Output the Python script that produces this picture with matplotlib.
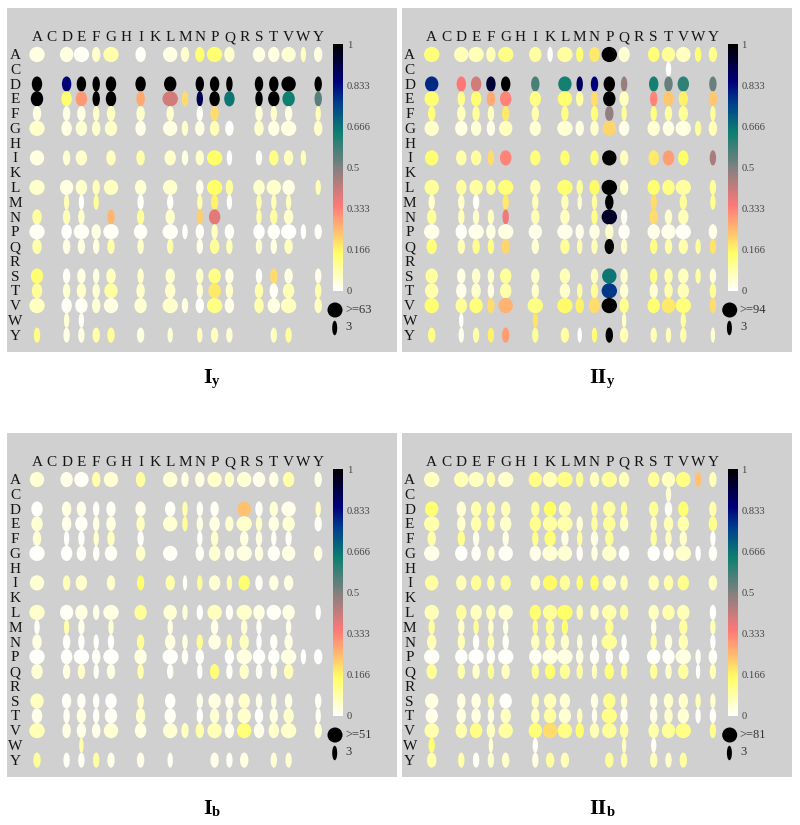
import matplotlib
matplotlib.use("Agg")
import matplotlib.pyplot as plt
from matplotlib.colors import LinearSegmentedColormap, Normalize
from matplotlib.cm import ScalarMappable
from matplotlib.patches import Ellipse

plt.rcParams['font.family'] = ['Liberation Serif']

residues = list("ACDEFGHIKLMNPQRSTVWY")
cbar_ticks = [0, 0.166, 0.333, 0.5, 0.666, 0.833, 1]
cbar_labels = ["0", "0.166", "0.333", "0.5", "0.666", "0.833", "1"]
legend_caps = [">=63", ">=94", ">=51", ">=81"]
title_main = ["I", "II", "I", "II"]
title_sub = ["y", "y", "b", "b"]
E = [0] * 20

# columns: A C D E F G H I K L M N P Q R S T V W Y
Iy_size = [
 [15,0,13,15,8,15,0,10,0,14,8,9,15,10,0,12,11,14,5,8], E,
 [10,0,9,9,7,10,0,10,0,12,0,8,9,6,0,8,9,14,0,7],
 [12,0,10,11,7,10,0,8,0,15,6,6,10,10,0,7,11,12,0,7],
 [8,0,7,8,6,8,0,8,0,7,0,6,8,0,0,7,6,7,0,5],
 [15,0,10,11,8,12,0,10,0,14,6,9,9,8,0,9,11,15,0,8], E,
 [14,0,7,11,0,9,0,8,0,11,6,8,15,5,0,6,9,9,5,0], E,
 [15,0,13,11,7,14,0,11,0,14,0,7,15,7,0,11,14,12,0,5],
 [0,0,5,5,5,0,0,6,0,6,0,5,7,5,0,5,5,5,0,0],
 [9,0,7,6,0,7,0,7,0,9,0,6,11,0,0,5,7,9,0,0],
 [15,0,10,15,9,15,0,13,0,15,5,8,6,9,0,11,12,15,5,7],
 [9,0,7,7,6,7,0,6,0,6,0,6,9,6,0,6,6,8,0,0], E,
 [12,0,7,8,6,9,0,6,0,9,0,7,12,8,0,6,7,8,0,6],
 [10,0,7,9,7,13,0,8,0,10,0,6,12,7,0,8,8,11,0,6],
 [15,0,10,12,8,14,0,12,0,15,6,8,15,9,0,9,12,15,0,7],
 [0,0,5,5,0,0,0,0,0,0,0,0,0,0,0,0,0,0,0,0],
 [6,0,6,6,7,7,0,7,0,5,0,5,7,6,0,0,6,6,0,0],
]
Iy_value = [
 [.03,0,.03,.01,.05,.08,0,.01,0,.03,.05,.14,.14,.05,0,.03,.03,.04,.06,.03], E,
 [1,0,.85,1,1,1,0,1,0,1,0,1,1,1,0,1,1,1,0,1],
 [1,0,.14,.3,1,1,0,.27,0,.4,.2,.9,1,.66,0,1,1,.64,0,.55],
 [.03,0,.03,.03,.05,.06,0,.05,0,.05,0,.01,.2,0,0,.04,.05,.03,0,.07],
 [.05,0,.03,.04,.05,.05,0,.02,0,.03,.05,.03,.07,.005,0,.05,.03,.03,0,.05], E,
 [.03,0,.04,.05,0,.06,0,.08,0,.05,.03,.05,.15,.005,0,.01,.12,.06,.07,0], E,
 [.05,0,.03,.05,.07,.06,0,.04,0,.05,0,.02,.15,.09,0,.05,.05,.03,0,.07],
 [0,0,.07,.005,.1,0,0,.005,0,.005,0,.08,.17,.01,0,.08,.07,.06,0,0],
 [.09,0,.07,.05,0,.25,0,.1,0,.05,0,.22,.38,0,0,.08,.09,.05,0,0],
 [.01,0,.005,.01,.03,.01,0,.01,0,.01,.005,.01,.06,.01,0,.005,.01,.005,.005,.01],
 [.08,0,.03,.03,.03,.08,0,.05,0,.08,0,.02,.1,.07,0,.04,.03,.06,0,0], E,
 [.14,0,.01,.03,.03,.06,0,.05,0,.05,0,.05,.12,.03,0,.01,.2,.03,0,.02],
 [.1,0,.04,.05,.04,.09,0,.05,0,.05,0,.04,.18,.05,0,.08,.01,.07,0,.08],
 [.06,0,.01,.01,.04,.03,0,.04,0,.05,.03,.005,.12,.02,0,.08,.03,.06,0,.06],
 [0,0,.04,.01,0,0,0,0,0,0,0,0,0,0,0,0,0,0,0,0],
 [.12,0,.03,.03,.08,.1,0,.03,0,.04,0,.06,.06,.04,0,0,.06,.09,0,0],
]

IIy_size = [
 [15,0,14,15,9,15,0,12,5,15,7,10,15,11,0,11,13,14,6,8],
 [0,0,0,0,0,0,0,0,0,0,0,0,0,0,0,0,5,0,0,0],
 [13,0,9,10,9,9,0,8,0,13,6,7,11,6,0,9,8,11,0,7],
 [14,0,7,10,8,11,0,11,0,14,7,7,12,9,0,7,10,9,0,8],
 [7,0,8,7,6,7,0,7,0,7,0,7,8,5,0,6,7,9,0,5],
 [14,0,12,10,8,13,0,11,0,15,8,8,13,10,0,12,11,15,6,8], E,
 [13,0,10,10,6,11,0,10,0,9,0,8,14,8,0,10,11,10,0,6], E,
 [14,0,10,13,9,15,0,10,0,15,6,10,15,8,0,12,12,15,0,6],
 [6,0,6,6,0,6,0,6,0,7,4,5,8,0,0,6,0,7,0,5],
 [9,0,6,6,6,6,0,8,0,9,0,6,15,6,0,8,7,10,0,0],
 [15,0,11,15,9,15,0,13,0,15,8,10,8,11,0,12,14,15,0,8],
 [10,0,7,7,6,8,0,7,0,9,5,6,9,6,0,7,7,9,5,6], E,
 [12,0,8,8,6,11,0,8,0,10,0,7,14,7,0,7,8,10,5,6],
 [13,0,10,9,6,11,0,7,0,10,5,7,15,8,0,8,8,11,0,6],
 [14,0,11,13,7,14,0,15,0,15,8,11,15,9,0,12,13,15,0,6],
 [0,0,4,0,0,0,0,5,0,0,0,0,0,4,0,0,0,5,0,0],
 [7,0,5,6,6,7,0,6,0,8,4,5,7,8,0,6,5,6,0,4],
]
IIy_value = [
 [.13,0,.07,.07,.07,.12,0,.09,.005,.09,.14,.18,1,.04,0,.13,.1,.06,.14,.11],
 [0,0,0,0,0,0,0,0,0,0,0,0,0,0,0,0,.005,0,0,0],
 [.79,0,.35,.4,.93,1,0,.57,0,.63,.88,.85,1,.47,0,.63,.53,.6,0,.53],
 [.14,0,.11,.14,.27,.33,0,.12,0,.14,.09,.2,1,.06,0,.33,.23,.17,0,.23],
 [.13,0,.06,.1,.06,.18,0,.08,0,.12,0,.13,.48,.1,0,.13,.09,.1,0,.1],
 [.05,0,.03,.04,.02,.06,0,.04,0,.04,.03,.05,.21,.02,0,.04,.03,.03,.1,.07], E,
 [.14,0,.08,.09,.2,.33,0,.13,0,.14,0,.13,1,.06,0,.18,.29,.15,0,.45], E,
 [.1,0,.09,.09,.1,.13,0,.07,0,.14,.1,.16,1,.05,0,.14,.12,.09,0,.1],
 [.05,0,.05,.01,0,.18,0,.07,0,.07,.04,.09,1,0,0,.2,0,.1,0,.11],
 [.1,0,.07,.05,.06,.36,0,.07,0,.06,0,.12,.95,.01,0,.2,.05,.07,0,0],
 [.02,0,.01,.02,.03,.03,0,.02,0,.02,.02,.03,.05,.01,0,.02,.02,.01,0,.02],
 [.13,0,.07,.11,.12,.21,0,.04,0,.1,.08,.07,1,.05,0,.12,.08,.08,.09,.19], E,
 [.09,0,.03,.05,.05,.1,0,.05,0,.07,0,.06,.66,.05,0,.12,.08,.06,.09,.04],
 [.08,0,.02,.05,.03,.08,0,.05,0,.05,.09,.1,.77,.04,0,.04,.08,.07,0,.1],
 [.14,0,.1,.13,.2,.26,0,.12,0,.16,.17,.2,1,.11,0,.14,.18,.13,0,.2],
 [0,0,.005,0,0,0,0,.19,0,0,0,0,0,.05,0,0,0,.1,0,0],
 [.12,0,.02,.08,.17,.29,0,.1,0,.09,.005,.13,1,.07,0,.07,.07,.08,0,.05],
]

Ib_size = [
 [14,0,12,14,8,14,0,9,0,14,7,9,14,9,14,12,9,11,0,7], E,
 [11,0,9,9,6,9,0,10,0,10,5,6,8,0,13,7,8,14,0,5],
 [11,0,9,12,6,9,0,8,0,14,5,6,10,8,15,6,10,12,0,7],
 [8,0,5,6,5,7,0,6,0,0,0,5,7,0,8,6,5,6,0,0],
 [15,0,11,9,6,12,0,9,0,14,0,8,11,9,15,8,12,13,0,8], E,
 [14,0,7,11,0,8,0,7,0,9,4,5,11,5,11,7,9,9,0,0], E,
 [15,0,13,12,6,15,0,12,0,13,5,6,14,7,15,11,14,12,0,5],
 [5,0,5,6,0,5,0,0,0,5,0,0,7,0,6,5,0,5,0,0],
 [9,0,7,6,5,6,0,7,0,10,5,6,12,5,9,5,7,8,0,0],
 [15,0,11,15,8,15,0,12,0,15,6,8,0,9,15,12,11,15,5,8],
 [11,0,7,7,5,8,0,6,0,6,0,5,9,6,9,6,6,9,0,0], E,
 [13,0,9,8,6,11,0,6,0,10,0,6,12,8,11,6,5,7,0,6],
 [10,0,6,9,6,12,0,9,0,11,0,6,9,6,13,8,8,10,0,5],
 [15,0,8,9,8,14,0,11,0,14,7,8,14,9,14,10,10,15,0,7],
 [0,0,0,4,0,0,0,0,0,0,0,0,0,0,0,0,0,0,0,0],
 [7,0,6,6,6,7,0,7,0,5,0,0,8,6,8,0,6,6,0,0],
]
Ib_value = [
 [.04,0,.02,.01,.08,.04,0,.09,0,.04,.03,.03,.05,.05,.04,.02,.03,.08,0,.02], E,
 [.005,0,.03,.02,.01,.01,0,.02,0,.01,.08,.01,.01,0,.24,.01,.04,.02,0,.05],
 [.04,0,.02,.01,.03,.03,0,.06,0,.04,.1,.03,.03,.04,.05,.05,.03,.04,0,.01],
 [.04,0,.005,.005,.05,.06,0,.005,0,0,0,.005,.05,0,.03,.03,.01,.01,0,0],
 [.005,0,.005,.01,.01,.01,0,.05,0,.01,0,.01,.04,.02,.03,.03,.01,.03,0,.03], E,
 [.04,0,.07,.05,0,.05,0,.14,0,.08,.01,.1,.04,.07,.14,.01,.03,.03,0,0], E,
 [.05,0,.01,.03,.02,.03,0,.1,0,.04,.04,.005,.06,.01,.05,.03,.01,.03,0,.005],
 [.005,0,.08,.02,0,.04,0,0,0,.03,0,0,.02,0,.04,.01,0,.02,0,0],
 [.03,0,.005,.005,.005,.005,0,.1,0,.03,.03,.1,.03,.08,.06,.005,.01,.03,0,0],
 [.005,0,.005,.005,.01,.005,0,.03,0,.005,.01,.005,0,.005,.03,.005,.005,.03,.005,.005],
 [.04,0,.03,.05,.01,.03,0,.08,0,.01,0,.005,.13,.01,.05,.01,.02,.07,0,0], E,
 [.06,0,.01,.01,.01,.005,0,.05,0,.005,0,.02,.03,.02,.05,.02,.03,.03,0,.01],
 [.02,0,.01,.03,.01,.01,0,.05,0,.01,0,.005,.04,.03,.05,.005,.03,.05,0,.01],
 [.07,0,.03,.02,.02,.04,0,.03,0,.04,.06,.08,.07,.02,.13,.02,.05,.05,0,.04],
 [0,0,0,.08,0,0,0,0,0,0,0,0,0,0,0,0,0,0,0,0],
 [.1,0,.01,.01,.09,.02,0,.02,0,.01,0,0,.02,.01,.03,0,.04,.04,0,0],
]

IIb_size = [
 [15,0,14,15,8,15,0,13,14,15,7,9,15,10,0,11,13,14,6,7],
 [0,0,0,0,0,0,0,0,0,0,0,0,0,0,0,0,5,0,0,0],
 [13,0,9,10,8,9,0,8,12,12,0,6,12,6,0,9,7,10,0,7],
 [15,0,8,10,7,11,0,11,14,15,6,6,12,8,0,6,9,11,0,8],
 [8,0,7,6,0,6,0,6,11,7,5,7,8,0,0,6,6,7,0,5],
 [15,0,12,9,7,14,0,11,15,14,6,6,14,10,0,12,10,15,5,8], E,
 [13,0,10,10,7,10,0,9,14,10,6,8,13,7,0,10,9,11,0,8], E,
 [14,0,10,11,9,14,0,11,14,15,6,8,14,8,0,10,12,12,0,6],
 [6,0,6,5,5,5,0,5,8,6,0,0,8,0,0,5,0,8,0,5],
 [9,0,7,6,6,6,0,8,9,8,5,5,15,5,0,6,7,9,0,5],
 [15,0,12,15,8,15,0,12,15,15,7,9,7,10,0,13,12,15,5,8],
 [10,0,7,7,6,8,0,7,10,10,6,5,9,6,0,7,6,10,4,6], E,
 [13,0,8,9,6,12,0,7,12,10,0,7,12,6,0,7,9,9,5,5],
 [12,0,9,9,6,10,0,8,12,12,5,5,15,7,0,7,8,11,5,6],
 [14,0,11,12,8,14,0,13,14,14,8,9,14,8,0,10,13,15,0,6],
 [6,0,0,0,4,0,0,5,0,0,0,0,0,4,0,5,0,0,0,0],
 [9,0,6,6,6,7,0,6,8,8,0,0,8,6,0,7,6,7,0,0],
]
IIb_value = [
 [.06,0,.07,.06,.08,.05,0,.12,.07,.12,.1,.06,.1,.07,0,.1,.06,.12,.24,.07],
 [0,0,0,0,0,0,0,0,0,0,0,0,0,0,0,0,.04,0,0,0],
 [.14,0,.04,.08,.09,.07,0,.09,.15,.08,0,.09,.09,.1,0,.1,.01,.14,0,.08],
 [.08,0,.05,.08,.1,.05,0,.11,.09,.08,.04,.09,.1,.06,0,.07,.07,.08,0,.11],
 [.08,0,.11,.02,0,.03,0,.11,.13,.03,.09,.03,.1,0,0,.09,.06,.05,0,.005],
 [.02,0,.005,.01,.05,.01,0,.02,.04,.04,.01,.03,.05,.005,0,.005,.01,.05,.005,.01], E,
 [.09,0,.07,.1,.08,.1,0,.06,.16,.1,.14,.15,.06,.07,0,.07,.08,.11,0,.06], E,
 [.07,0,.09,.06,.07,.05,0,.14,.1,.15,.08,.06,.08,.09,0,.06,.08,.07,0,.005],
 [.09,0,.05,.1,.05,.03,0,.12,.1,.14,0,0,.1,0,0,.03,0,.09,0,.07],
 [.07,0,.07,.005,.08,.01,0,.06,.09,.05,.04,.01,.1,.01,0,.08,.03,.07,0,.005],
 [.01,0,.005,.005,.01,.005,0,.01,.03,.03,.03,.01,.01,.005,0,.005,.01,.03,.01,.01],
 [.1,0,.08,.05,.1,.06,0,.1,.14,.1,.09,.06,.13,.1,0,.1,.05,.09,.005,.07], E,
 [.03,0,.03,.03,.08,.005,0,.06,.07,.04,0,.03,.11,.05,0,.03,.05,.05,.07,.05],
 [.02,0,.03,.03,.03,.06,0,.06,.09,.04,.07,.02,.12,.01,0,.02,.05,.04,.01,.01],
 [.08,0,.08,.12,.06,.09,0,.13,.2,.12,.14,.07,.1,.09,0,.08,.1,.12,0,.11],
 [.14,0,0,0,.04,0,0,.005,0,0,0,0,0,.06,0,.01,0,0,0,0],
 [.08,0,.08,.01,.05,.05,0,.03,.09,.07,0,0,.1,.08,0,.07,.05,.09,0,0],
]

cmap = LinearSegmentedColormap.from_list("energy", [
    (0.0, "#ffffff"), (0.05, "#ffffc8"), (0.15, "#ffff66"), (0.25, "#ffb870"),
    (0.345, "#ff7878"), (0.5, "#808080"), (0.64, "#0e8070"), (0.76, "#00408c"),
    (0.85, "#00007a"), (1.0, "#000000")])
norm = Normalize(0, 1)

W, H = 800, 825
fig = plt.figure(figsize=(W / 100, H / 100), dpi=100, facecolor="white")

DX = 14.8      # px between columns
DY = 14.77     # px between rows
ELL_H = 15.2   # ellipse height, px


def add_px_axes(x0, y0, x1, y1, **kw):
    return fig.add_axes([x0 / W, 1 - y1 / H, (x1 - x0) / W, (y1 - y0) / H], **kw)


def draw_panel(size, value, ox, oy, cap, main, sub, title_oy):
    left, right, top, bottom = 7 + ox, 397.5 + ox, 8 + oy, 352 + oy
    col0, row0 = 37 + ox, 54.5 + oy
    ax = add_px_axes(left, top, right, bottom)
    ax.set_facecolor("#d0d0d0")
    ax.set_xlim((left - col0) / DX, (right - col0) / DX)
    ax.set_ylim((bottom - row0) / DY, (top - row0) / DY)
    ax.set_xticks([]); ax.set_yticks([])
    for s in ax.spines.values():
        s.set_visible(False)

    for r, (srow, vrow) in enumerate(zip(size, value)):
        for c, (w, v) in enumerate(zip(srow, vrow)):
            if w:
                ax.add_patch(Ellipse((c, r), (w + 0.4) / DX, ELL_H / DY, fc=cmap(norm(v)), ec="none"))

    for i, lab in enumerate(residues):
        ax.text(i, (37.7 + oy - row0) / DY, lab, ha="center", va="center",
                fontsize=11, color="#151515")
        ax.text((15 + ox - col0) / DX, i + 0.07, lab, ha="center", va="center",
                fontsize=11, color="#151515")

    # size legend
    ax.add_patch(Ellipse(((335 + ox - col0) / DX, (310 + oy - row0) / DY), 15 / DX, 15 / DY,
                         fc="black", ec="none"))
    ax.add_patch(Ellipse(((334.7 + ox - col0) / DX, (328 + oy - row0) / DY), 5 / DX, 14.5 / DY,
                         fc="black", ec="none"))
    ax.text((345 + ox - col0) / DX, (310 + oy - row0) / DY, cap, ha="left", va="center",
            fontsize=9, color="#333333")
    ax.text((345.5 + ox - col0) / DX, (327 + oy - row0) / DY, "3", ha="left", va="center",
            fontsize=9, color="#333333")

    # colour bar
    cax = add_px_axes(333 + ox, 44.3 + oy, 343.3 + ox, 290.5 + oy)
    cb = fig.colorbar(ScalarMappable(norm=norm, cmap=cmap), cax=cax, ticks=cbar_ticks)
    cb.outline.set_visible(False)
    cb.ax.set_yticklabels(cbar_labels, fontsize=7.6, color="#444444")
    cb.ax.tick_params(length=0, pad=2.5)

    # panel title: bold label with subscript
    fig.text((211.5 + ox) / W, 1 - (382.7 + title_oy) / H, main, ha="right", va="baseline",
             fontsize=15.8, fontweight="bold", color="black")
    fig.text((212 + ox) / W, 1 - (385 + title_oy) / H, sub, ha="left", va="baseline",
             fontsize=10.5, fontweight="bold", color="black")


draw_panel(Iy_size, Iy_value, 0, 0, legend_caps[0], title_main[0], title_sub[0], 0)
draw_panel(IIy_size, IIy_value, 394.7, 0, legend_caps[1], title_main[1], title_sub[1], 0)
draw_panel(Ib_size, Ib_value, 0, 425, legend_caps[2], title_main[2], title_sub[2], 431)
draw_panel(IIb_size, IIb_value, 394.7, 425, legend_caps[3], title_main[3], title_sub[3], 431)

fig.savefig("out.png", dpi=100)
